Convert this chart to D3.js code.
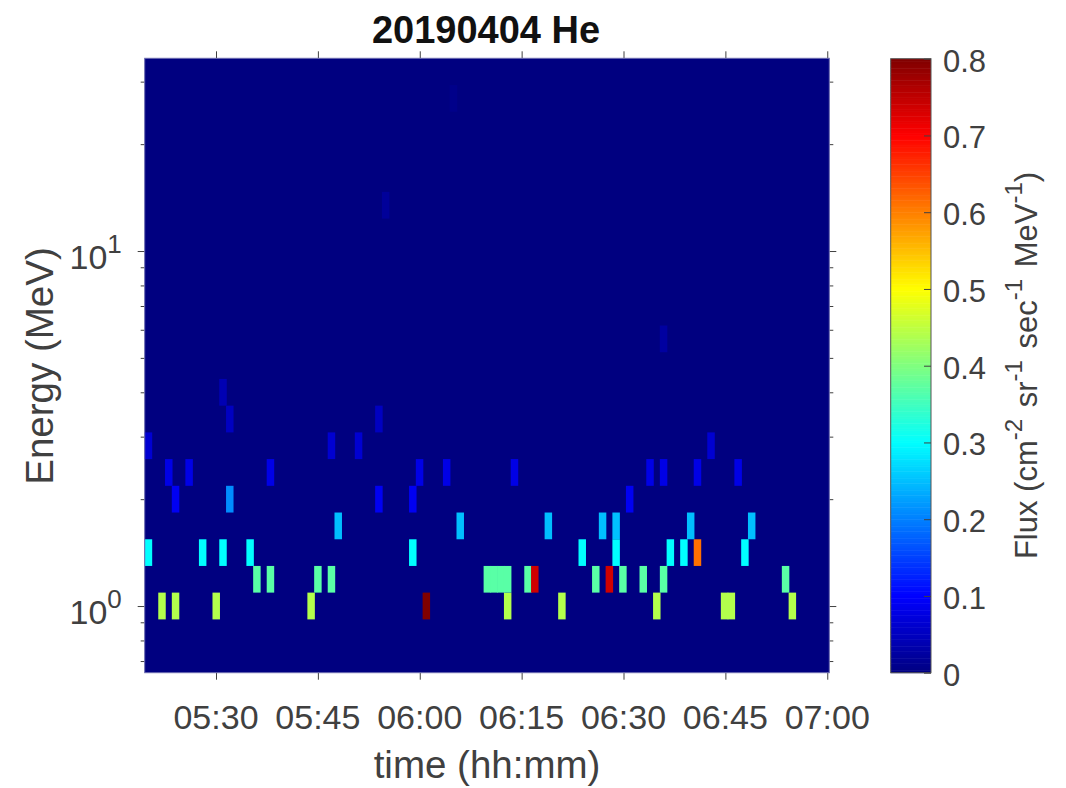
<!DOCTYPE html>
<html><head><meta charset="utf-8">
<script src="https://cdn.jsdelivr.net/npm/d3@7"></script>
<style>
html,body{margin:0;padding:0;background:#fff}
svg{display:block}
text{font-family:"Liberation Sans",Arial,sans-serif;fill:#404040}
</style></head><body>
<svg id="c" width="1066" height="788"></svg>
<script>
// Energy bin edges (MeV), log-spaced
const energyEdges=[0.917,1.091,1.297,1.542,1.834,2.181,2.594,3.084,3.668,4.362,5.187,6.168,7.335,8.723,10.37,12.34,14.67,17.45,20.75,24.67,29.34];
// Flux per energy bin: [nominal sample minute, flux]
const bin0=[["05:22",.44],["05:24",.44],["05:30",.44],["05:44",.44],["06:01",.8],["06:13",.44],["06:21",.44],["06:35",.44],["06:45",.44],["06:46",.44],["06:55",.44]];
const bin1=[["05:36",.37],["05:38",.37],["05:45",.37],["05:47",.37],["06:10",.37],["06:11",.37],["06:12",.37],["06:13",.37],["06:16",.37],["06:17",.737],["06:26",.37],["06:28",.737],["06:30",.37],["06:33",.37],["06:36",.37],["06:54",.37]];
const bin2=[["05:20",.3],["05:28",.3],["05:31",.3],["05:35",.3],["05:59",.3],["06:24",.3],["06:29",.3],["06:37",.3],["06:39",.3],["06:41",.612],["06:48",.3]];
const bin3=[["05:48",.25],["06:06",.25],["06:19",.25],["06:27",.25],["06:29",.25],["06:40",.25],["06:49",.25]];
const bin4=[["05:24",.09],["05:32",.21],["05:54",.09],["05:59",.09],["06:31",.09]];
const bin5=[["05:23",.08],["05:26",.08],["05:38",.08],["06:00",.08],["06:04",.08],["06:14",.08],["06:34",.08],["06:36",.08],["06:41",.08],["06:47",.08]];
const bin6=[["05:20",.064],["05:47",.064],["05:51",.064],["06:43",.064]];
const bin7=[["05:32",.05],["05:54",.05]];
const bin8=[["05:31",.04]];
const bin10=[["06:36",.025]];
const bin15=[["05:55",.02]];
const bin19=[["06:05",.008]];
const binRows=[[0,bin0],[1,bin1],[2,bin2],[3,bin3],[4,bin4],[5,bin5],[6,bin6],[7,bin7],[8,bin8],[10,bin10],[15,bin15],[19,bin19]];
const xTickLabels=["05:30","05:45","06:00","06:15","06:30","06:45","07:00"];
const yMajor=[1,10];
const yMinor=[0.7,0.8,0.9,2,3,4,5,6,7,8,9,20,30];
const cbTicks=[0,0.1,0.2,0.3,0.4,0.5,0.6,0.7,0.8];
const jetStops=[0,0.1,0.3,0.5,0.7,0.8];
const jetColors=["#000080","#0000ff","#00ffff","#ffff00","#ff0000","#800000"];
const cadenceSeconds=59.88;

const TICK=34,CBTICK=31,LABEL=38.5,TITLE=38;
const L=144.7,R=829.3,T=58.3,B=672.7;
const svg=d3.select("#c");
const parse=d3.utcParse("%H:%M");
const t0=+parse("05:20");
const x=d3.scaleUtc().domain([new Date(t0-30000),new Date(+parse("07:00")+18000)]).range([L,R]);
const y=d3.scaleLog().domain([0.649,34.9]).range([B,T]);
const jet=d3.scaleLinear().domain(jetStops).range(jetColors).interpolate(d3.interpolateRgb);
const cb=d3.scaleLinear().domain([0,0.8]).range([672.7,58.7]);
// sample n minutes after start really falls n cadences after start
const edge=(s,off)=>new Date(t0+((+parse(s)-t0)/60000+off)*cadenceSeconds*1000);

svg.append("rect").attr("x",L).attr("y",T).attr("width",R-L).attr("height",B-T).attr("fill",jet(0));
binRows.forEach(([k,cells])=>{
  const g=svg.append("g");
  // equal-valued neighbours are drawn first wide enough to hide seams
  g.selectAll("rect").data(cells).join("rect")
   .attr("x",d=>x(edge(d[0],-0.5)))
   .attr("width",d=>x(edge(d[0],0.5))-x(edge(d[0],-0.5))+0.7)
   .attr("y",y(energyEdges[k+1]))
   .attr("height",y(energyEdges[k])-y(energyEdges[k+1]))
   .attr("fill",d=>jet(d[1]));
});
const tickCol="#404040";
function style(g){g.select(".domain").remove();g.selectAll("line").attr("stroke",tickCol).attr("stroke-width",1);}
const xTicks=xTickLabels.map(parse);
svg.append("g").attr("transform",`translate(0,${B})`).call(d3.axisBottom(x).tickValues(xTicks).tickSize(7).tickSizeOuter(0).tickFormat("")).call(style);
svg.selectAll(null).data(xTicks).join("text").attr("x",d=>x(d)).attr("y",729).attr("text-anchor","middle").attr("font-size",TICK).text(d3.utcFormat("%H:%M"));
svg.append("g").attr("transform",`translate(0,${T})`).call(d3.axisTop(x).tickValues(xTicks).tickSize(7).tickSizeOuter(0).tickFormat("")).call(style);
[[L,d3.axisLeft],[R,d3.axisRight]].forEach(([px,ax])=>{
  svg.append("g").attr("transform",`translate(${px},0)`).call(ax(y).tickValues(yMajor).tickSize(7).tickSizeOuter(0).tickFormat("")).call(style);
  svg.append("g").attr("transform",`translate(${px},0)`).call(ax(y).tickValues(yMinor).tickSize(4).tickSizeOuter(0).tickFormat("")).call(style);
});
svg.append("rect").attr("x",L).attr("y",T).attr("width",R-L).attr("height",B-T).attr("fill","none").attr("stroke","#6a6ab0").attr("stroke-width",1);
yMajor.forEach(v=>{
  const t=svg.append("text").attr("x",69.5).attr("y",y(v)+18).attr("font-size",TICK);
  t.append("tspan").text("10");
  t.append("tspan").attr("dy",-16.5).attr("font-size",26).text(Math.round(Math.log10(v)));
});
svg.append("text").attr("x",486).attr("y",43).attr("text-anchor","middle").attr("font-size",TITLE).attr("font-weight","bold").attr("style","fill:#111").text("20190404 He");
svg.append("text").attr("x",487).attr("y",778).attr("text-anchor","middle").attr("font-size",LABEL).text("time (hh:mm)");
svg.append("text").attr("transform","translate(53,366) rotate(-90)").attr("text-anchor","middle").attr("font-size",LABEL).text("Energy (MeV)");

// colourbar
const levels=d3.range(256);
svg.append("g").selectAll("rect").data(levels).join("rect")
  .attr("x",890.7).attr("width",40.3)
  .attr("y",d=>cb((d+1)/256*0.8)).attr("height",d=>cb(d/256*0.8)-cb((d+1)/256*0.8)+0.5)
  .attr("fill",d=>jet((d+0.5)/256*0.8));
svg.append("rect").attr("x",890.7).attr("y",58.7).attr("width",40.3).attr("height",614).attr("fill","none").attr("stroke","#555").attr("stroke-width",1);
svg.append("g").attr("transform","translate(931,0)").call(d3.axisLeft(cb).tickValues(cbTicks).tickSize(7).tickSizeOuter(0).tickFormat("")).call(style);
svg.selectAll(null).data(cbTicks).join("text").attr("x",943).attr("y",d=>cb(d)+13).attr("font-size",CBTICK).text(d=>d===0?"0":d.toFixed(1));
const cl=svg.append("text").attr("transform","translate(1036.7,365.5) rotate(-90)").attr("text-anchor","middle").attr("font-size",31).attr("xml:space","preserve");
[["Flux (cm",0],["-2",1],[" sr",0],["-1",1],[" sec",0],["-1",1],[" MeV",0],["-1",1],[")",0]].forEach(([s,sup],i)=>{
  const ts=cl.append("tspan").text(s);
  if(sup) ts.attr("dy",-15).attr("font-size",24);
  else if(i>0) ts.attr("dy",15).attr("dx",s===")"?0:3);
});
</script>
</body></html>
